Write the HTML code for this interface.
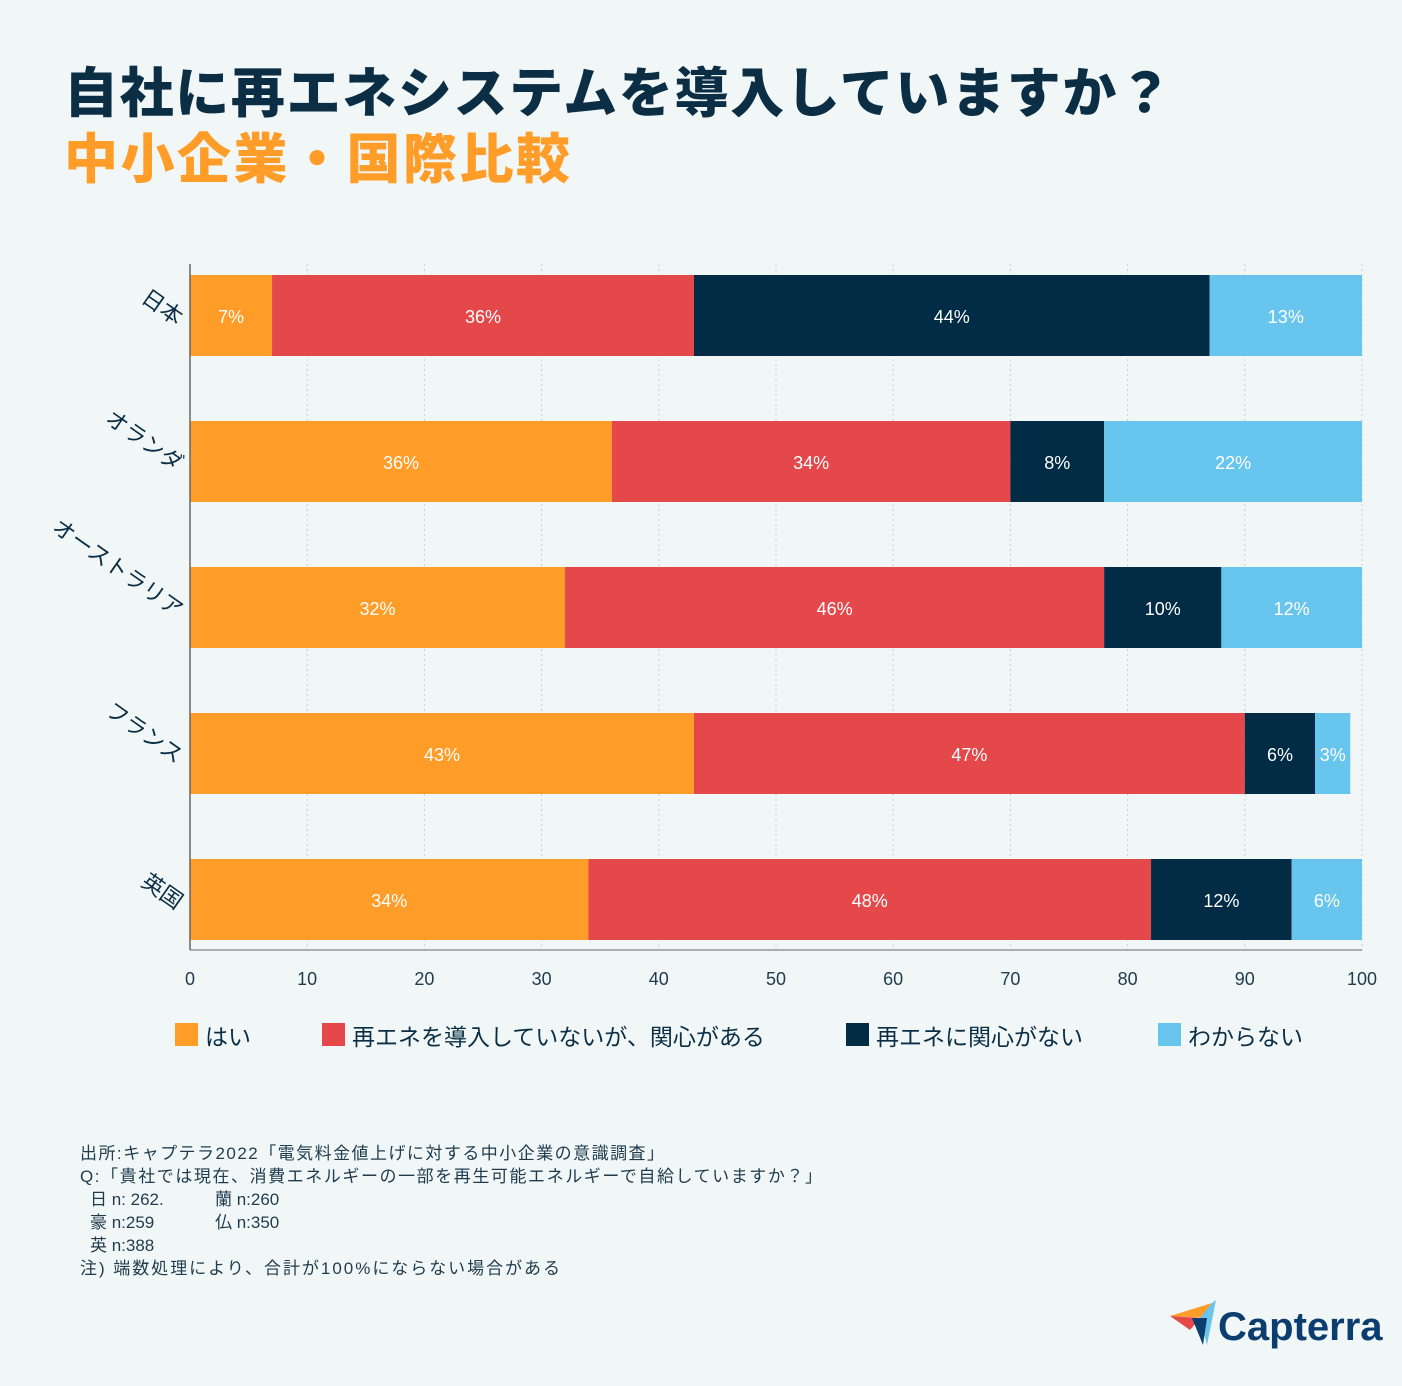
<!DOCTYPE html>
<html><head><meta charset="utf-8"><style>
body{margin:0;background:#F1F7F7;}
svg{display:block}
text{font-family:"Liberation Sans","Noto Sans CJK JP",sans-serif}
</style></head><body>
<svg width="1402" height="1386" viewBox="0 0 1402 1386">
<rect width="1402" height="1386" fill="#F1F7F7"/>
<text x="64" y="112" font-size="54" font-weight="900" fill="#0B2E45" textLength="1108" lengthAdjust="spacing">自社に再エネシステムを導入していますか？</text>
<text x="64" y="178" font-size="54" font-weight="900" fill="#FF9D28" textLength="506" lengthAdjust="spacing">中小企業・国際比較</text>
<g id="grid"></g><g id="bars"></g><g id="axes"></g><g id="legend"></g>
<g font-size="17" fill="#1F3B4D">
<text x="80" y="1159" textLength="584" lengthAdjust="spacing">出所:キャプテラ2022「電気料金値上げに対する中小企業の意識調査」</text>
<text x="80" y="1182" textLength="742" lengthAdjust="spacing">Q:「貴社では現在、消費エネルギーの一部を再生可能エネルギーで自給していますか？」</text>
<text x="90" y="1205">日  n: 262.</text><text x="215" y="1205">蘭  n:260</text>
<text x="90" y="1228">豪  n:259</text><text x="215" y="1228">仏  n:350</text>
<text x="90" y="1251">英  n:388</text>
<text x="80" y="1274" textLength="480" lengthAdjust="spacing">注)  端数処理により、合計が100%にならない場合がある</text>
</g>
<g>
<polygon points="1170,1316 1212,1303 1207,1318" fill="#FF9D28"/>
<polygon points="1212,1303 1216,1300 1207,1345 1200,1318" fill="#68C5EE"/>
<polygon points="1170,1316 1200,1318 1190,1330" fill="#E5484A"/>
<polygon points="1192,1318 1207,1318 1203,1345" fill="#0B3D6E"/>
<text x="1218" y="1340" font-size="40" font-weight="bold" fill="#0B3D6E">Capterra</text>
</g>
</svg>
<script>
const countries=["日本","オランダ","オーストラリア","フランス","英国"];
const yes=[7,36,32,43,34];
const interested=[36,34,46,47,48];
const notInterested=[44,8,10,6,12];
const unknown=[13,22,12,3,6];
const ticks=[0,10,20,30,40,50,60,70,80,90,100];
const seriesNames=["はい","再エネを導入していないが、関心がある","再エネに関心がない","わからない"];
const colors=["#FF9D28","#E5484A","#022B45","#68C5EE"];
const NS="http://www.w3.org/2000/svg";
const x=v=>190+v*11.72;
const yc=i=>316+i*146;
function mk(t,a,p){const e=document.createElementNS(NS,t);for(const k in a)e.setAttribute(k,a[k]);p.appendChild(e);return e;}
const grid=document.getElementById('grid'),bars=document.getElementById('bars'),axes=document.getElementById('axes'),leg=document.getElementById('legend');
ticks.forEach(t=>{
 if(t>0){const l=mk('line',{x1:x(t),x2:x(t),y1:264,y2:950,stroke:'#C9D2D6','stroke-dasharray':'2,3'},grid);
 
 }
 const tl=mk('text',{x:x(t),y:985,'font-size':18,'text-anchor':'middle',fill:'#1F3B4D'},axes);tl.textContent=t;
 
 
});
const series=[yes,interested,notInterested,unknown];
countries.forEach((c,i)=>{
 let cum=0;
 series.forEach((s,k)=>{
  const v=s[i];
  const r=mk('rect',{x:x(cum),y:yc(i)-41,width:x(cum+v)-x(cum),height:81,fill:colors[k]},bars);
  
  
  const t=mk('text',{x:(x(cum)+x(cum+v))/2,y:yc(i)+7,'font-size':18,'text-anchor':'middle',fill:'#fff'},bars);
  t.textContent=v+'%';
  
  
  cum+=v;
 });
 const lab=mk('text',{x:0,y:0,'font-size':22,'text-anchor':'end',fill:'#0B2E45',transform:`translate(176,${yc(i)+10}) rotate(35)`},axes);
 lab.textContent=c;
 
 
});
const ax=mk('line',{x1:190,x2:190,y1:264,y2:950,stroke:'#666','stroke-width':1.5},axes);


const ax2=mk('line',{x1:190,x2:1362,y1:950,y2:950,stroke:'#666','stroke-width':1},axes);


const lx=[175,322,846,1158];
seriesNames.forEach((n,k)=>{
 const g=mk('g',{},leg);
 
 
 mk('rect',{x:lx[k],y:1023,width:23,height:23,fill:colors[k]},g);
 const t=mk('text',{x:lx[k]+30,y:1045,'font-size':23,fill:'#0B2E45'},g);t.textContent=n;
});
</script>
</body></html>
